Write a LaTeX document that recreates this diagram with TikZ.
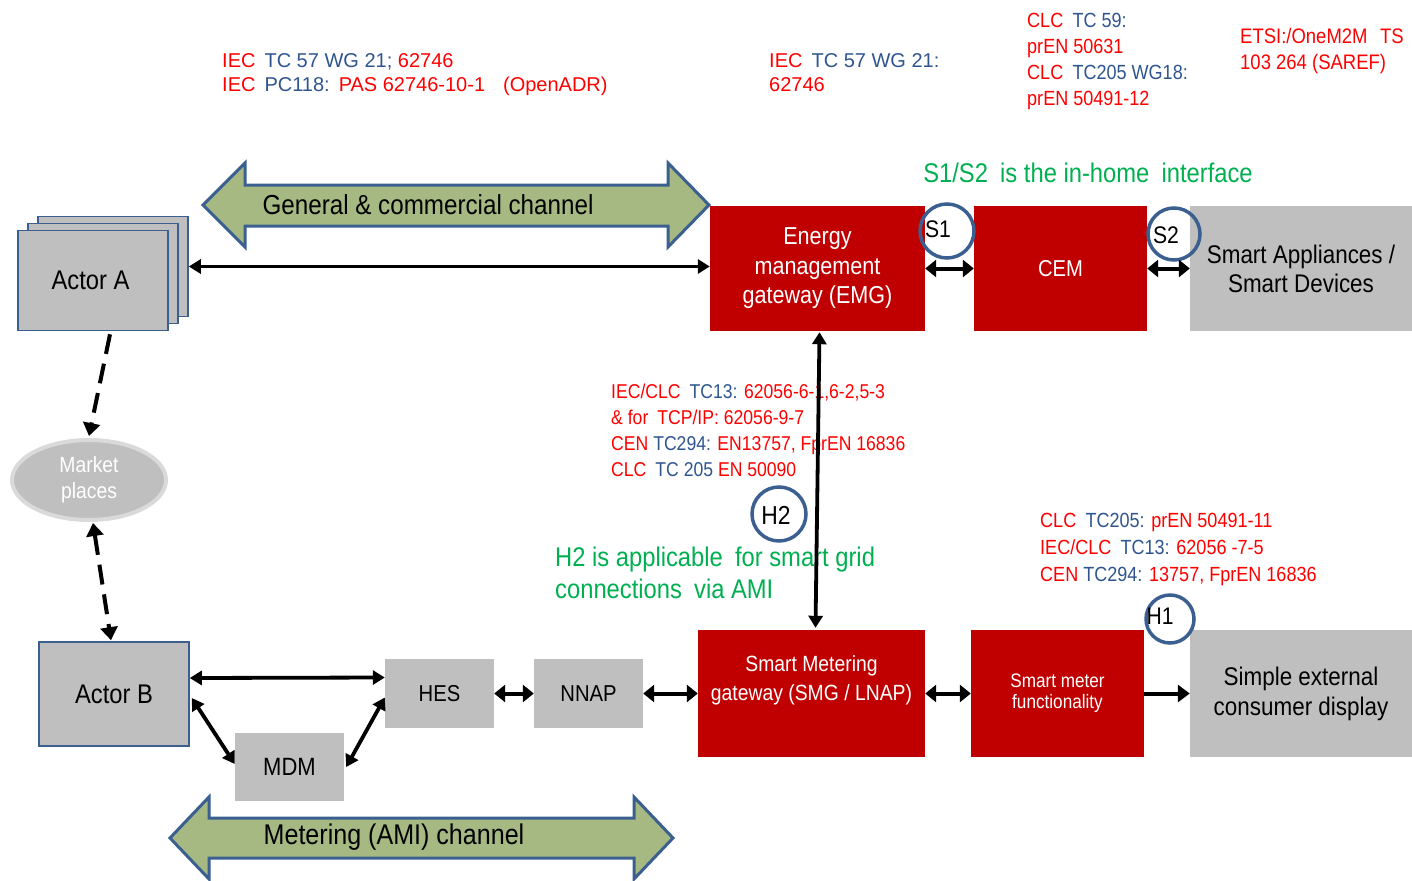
\documentclass[tikz,border=0pt]{standalone}
\usepackage{fontspec}
\setmainfont{Liberation Sans}[FakeStretch=0.88]
\newfontfamily\arialish{Liberation Sans}
\usetikzlibrary{arrows.meta,calc,shapes.geometric}
\definecolor{boxred}{HTML}{C00000}
\definecolor{boxgray}{HTML}{BFBFBF}
\definecolor{bblue}{HTML}{3B6090}
\definecolor{tblue}{HTML}{2E5590}
\definecolor{tred}{HTML}{FF0000}
\definecolor{tgreen}{HTML}{00B050}
\definecolor{chfill}{HTML}{A6B983}
\definecolor{mpborder}{HTML}{DADADA}
\newcommand{\fs}[2]{\fontsize{#1}{#2}\selectfont}
\newcommand{\R}[1]{\textcolor{tred}{#1}}
\newcommand{\B}[1]{\textcolor{tblue}{#1}}
\newcommand{\gap}{\hspace{0.45em}}
\begin{document}
\begin{tikzpicture}[x=1pt,y=-1pt,
  redbox/.style={fill=boxred,text=white,align=center,inner sep=0,minimum width=#1},
  graybox/.style={fill=boxgray,text=black,align=center,inner sep=0,minimum width=#1},
  actorbox/.style={fill=boxgray,draw=bblue,line width=1.6pt,text=black,align=center,inner sep=0,minimum width=150,minimum height=100},
  ring/.style={circle,draw=bblue,line width=3.5pt,inner sep=0,minimum size=#1},
  channel/.style={fill=chfill,draw=bblue,line width=3pt,line join=miter},
  arr/.style={line width=3.8pt,{Triangle[length=12pt,width=14pt]}-{Triangle[length=12pt,width=14pt]}},
  sarr/.style={line width=4pt,{Triangle[length=11pt,width=17pt]}-{Triangle[length=11pt,width=17pt]}},
  oarr/.style={line width=4pt,-{Triangle[length=12pt,width=17pt]}},
  darr/.style={line width=4pt,dash pattern=on 20pt off 10pt},
  lbl/.style={inner sep=0,align=left,anchor=west}
]
\useasboundingbox (0,0) rectangle (1412,880);

% top standard texts
\node[lbl,font=\arialish\fs{20}{24}] (t1) at (222,75) {\R{IEC}\gap\B{TC 57 WG 21;} \R{62746}\\ \R{IEC}\gap\B{PC118:}\gap\R{PAS 62746-10-1\hspace{0.9em}(OpenADR)}};
\node[lbl,font=\arialish\fs{20}{24}] (t2) at (769,73) {\R{IEC}\gap\B{TC 57 WG 21:}\\ \R{62746}};
\node[lbl,font=\fs{20.5}{26}] (t3) at (1027,61) {\R{CLC}\gap\B{TC 59:}\\ \R{prEN 50631}\\ \R{CLC}\gap\B{TC205 WG18:}\\ \R{prEN 50491-12}};
\node[lbl,font=\fs{21}{26}] (t4) at (1240,51) {\R{ETSI:/OneM2M\hspace{0.6em}TS}\\ \R{103 264 (SAREF)}};

% channels
\draw[channel] (203,205) -- (245,163) -- (245,185) -- (668,185) -- (668,163) -- (709,205) -- (668,247) -- (668,226) -- (245,226) -- (245,247) -- cycle;
\node[font=\fs{27.5}{30}] (gch) at (428,205) {General \& commercial channel};
\draw[channel] (170,838) -- (209,797) -- (209,818) -- (634,818) -- (634,797) -- (673,838) -- (634,879) -- (634,858) -- (209,858) -- (209,879) -- cycle;
\node[font=\fs{28.5}{30}] (mch) at (394,837) {Metering (AMI) channel};

% Actor A stack
\node[actorbox] (aA3) at (113,266.5) {};
\node[actorbox] (aA2) at (103,273.5) {};
\node[actorbox,font=\fs{27}{30}] (aA1) at (93,280.5) {\hspace*{-5pt}Actor A};

% Top row boxes
\node[redbox=215,minimum height=125,font=\fs{24.5}{29.5}] (emg) at (817.5,268.5) {Energy\\management\\gateway (EMG)};
\node[redbox=173,minimum height=125,font=\fs{23}{29}] (cem) at (1060.5,268.5) {CEM};
\node[graybox=222,minimum height=125,font=\fs{25.5}{29}] (sa) at (1301,268.5) {Smart Appliances /\\Smart Devices};

\node[font=\fs{27}{30},text=tgreen,inner sep=0] (inhome) at (1088,173) {S1/S2\gap is the in-home\gap interface};

% rings
\node[ring=54] (s1) at (947,231) {};
\node[font=\fs{24}{26},inner sep=0] (s1t) at (938,229) {S1};
\node[ring=52] (s2) at (1174,234) {};
\node[font=\fs{24}{26},inner sep=0] (s2t) at (1166,235) {S2};

% top arrows
\draw[arr] (aA3.east) -- (emg.west |- aA3.east);
\draw[sarr] (emg.east) -- (cem.west);
\draw[sarr] (cem.east) -- (sa.west);

% middle texts
\node[lbl,font=\fs{20}{26}] (mt) at (611,430) {\R{IEC/CLC}\gap\B{TC13:} \R{62056-6-1,6-2,5-3}\\ \R{\& for\gap TCP/IP: 62056-9-7}\\ \R{CEN} \B{TC294:} \R{EN13757, FprEN 16836}\\ \R{CLC}\gap\B{TC 205} \R{EN 50090}};
\node[lbl,font=\fs{27}{32},text=tgreen] (h2t) at (555,573) {H2 is applicable\gap for smart grid\\connections\gap via AMI};
\node[ring=54] (h2) at (779,514) {};
\node[font=\fs{26}{28},inner sep=0] (h2l) at (776,515) {H2};

% bottom row boxes
\node[redbox=227,minimum height=127,font=\fs{22}{29}] (smg) at (811.5,693.5) {};
\node[font=\fs{22}{29},text=white,align=center,inner sep=0] (smgt) at (811.5,680.5) {Smart Metering\\gateway (SMG / LNAP)};
\node[redbox=173,minimum height=127,font=\fs{19.5}{21}] (smf) at (1057.5,693.5) {Smart meter\\functionality};
\node[graybox=222,minimum height=127,font=\fs{25.5}{30}] (disp) at (1301,693.5) {Simple external\\consumer display};
\node[graybox=109,minimum height=69,font=\fs{23}{26}] (hes) at (439.5,693.5) {HES};
\node[graybox=109,minimum height=69,font=\fs{23}{26}] (nnap) at (588.5,693.5) {NNAP};
\node[graybox=109,minimum height=68,font=\fs{25}{26}] (mdm) at (289.5,767) {MDM};
\node[actorbox,minimum height=104,font=\fs{27}{30}] (ab) at (114,694) {Actor B};

\node[lbl,font=\fs{20.5}{27}] (bt) at (1040,549) {\R{CLC}\gap\B{TC205:} \R{prEN 50491-11}\\ \R{IEC/CLC}\gap\B{TC13:} \R{62056 -7-5}\\ \R{CEN} \B{TC294:} \R{13757, FprEN 16836}};
\node[ring=48] (h1) at (1170,619) {};
\node[font=\fs{24}{26},inner sep=0] (h1l) at (1160,616) {H1};

% vertical EMG-SMG
\draw[arr] ($(emg.south)+(2,1)$) -- ($(smg.north)+(4,-2)$);

% bottom arrows
\draw[sarr] (smg.east) -- (smf.west);
\draw[oarr] (smf.east) -- (disp.west);
\draw[sarr] (hes.east) -- (nnap.west);
\draw[sarr] (nnap.east) -- (smg.west);
\draw[arr] ($(ab.east)+(0,-16)$) -- ($(hes.west)+(0,-16)$);
\draw[arr] ($(ab.east)+(2,4)$) -- ($(mdm.west)+(0,-3)$);
\draw[arr] ($(mdm.east)+(2,0)$) -- ($(hes.west)+(0,4)$);

% market places
\node[ellipse,fill=boxgray,draw=mpborder,line width=4pt,minimum width=154,minimum height=80,inner sep=0,text=white,align=center,font=\fs{22}{26}] (mp) at (89,480) {Market\\places};
\draw[darr,-{Triangle[length=13pt,width=17pt]}] ($(aA1.south)+(17,3)$) -- ($(mp.north)+(0,-2)$);
\draw[darr,{Triangle[length=13pt,width=17pt]}-{Triangle[length=13pt,width=17pt]}] ($(mp.south)+(4,1)$) -- ($(ab.north)+(-3,-1)$);
\end{tikzpicture}
\end{document}
